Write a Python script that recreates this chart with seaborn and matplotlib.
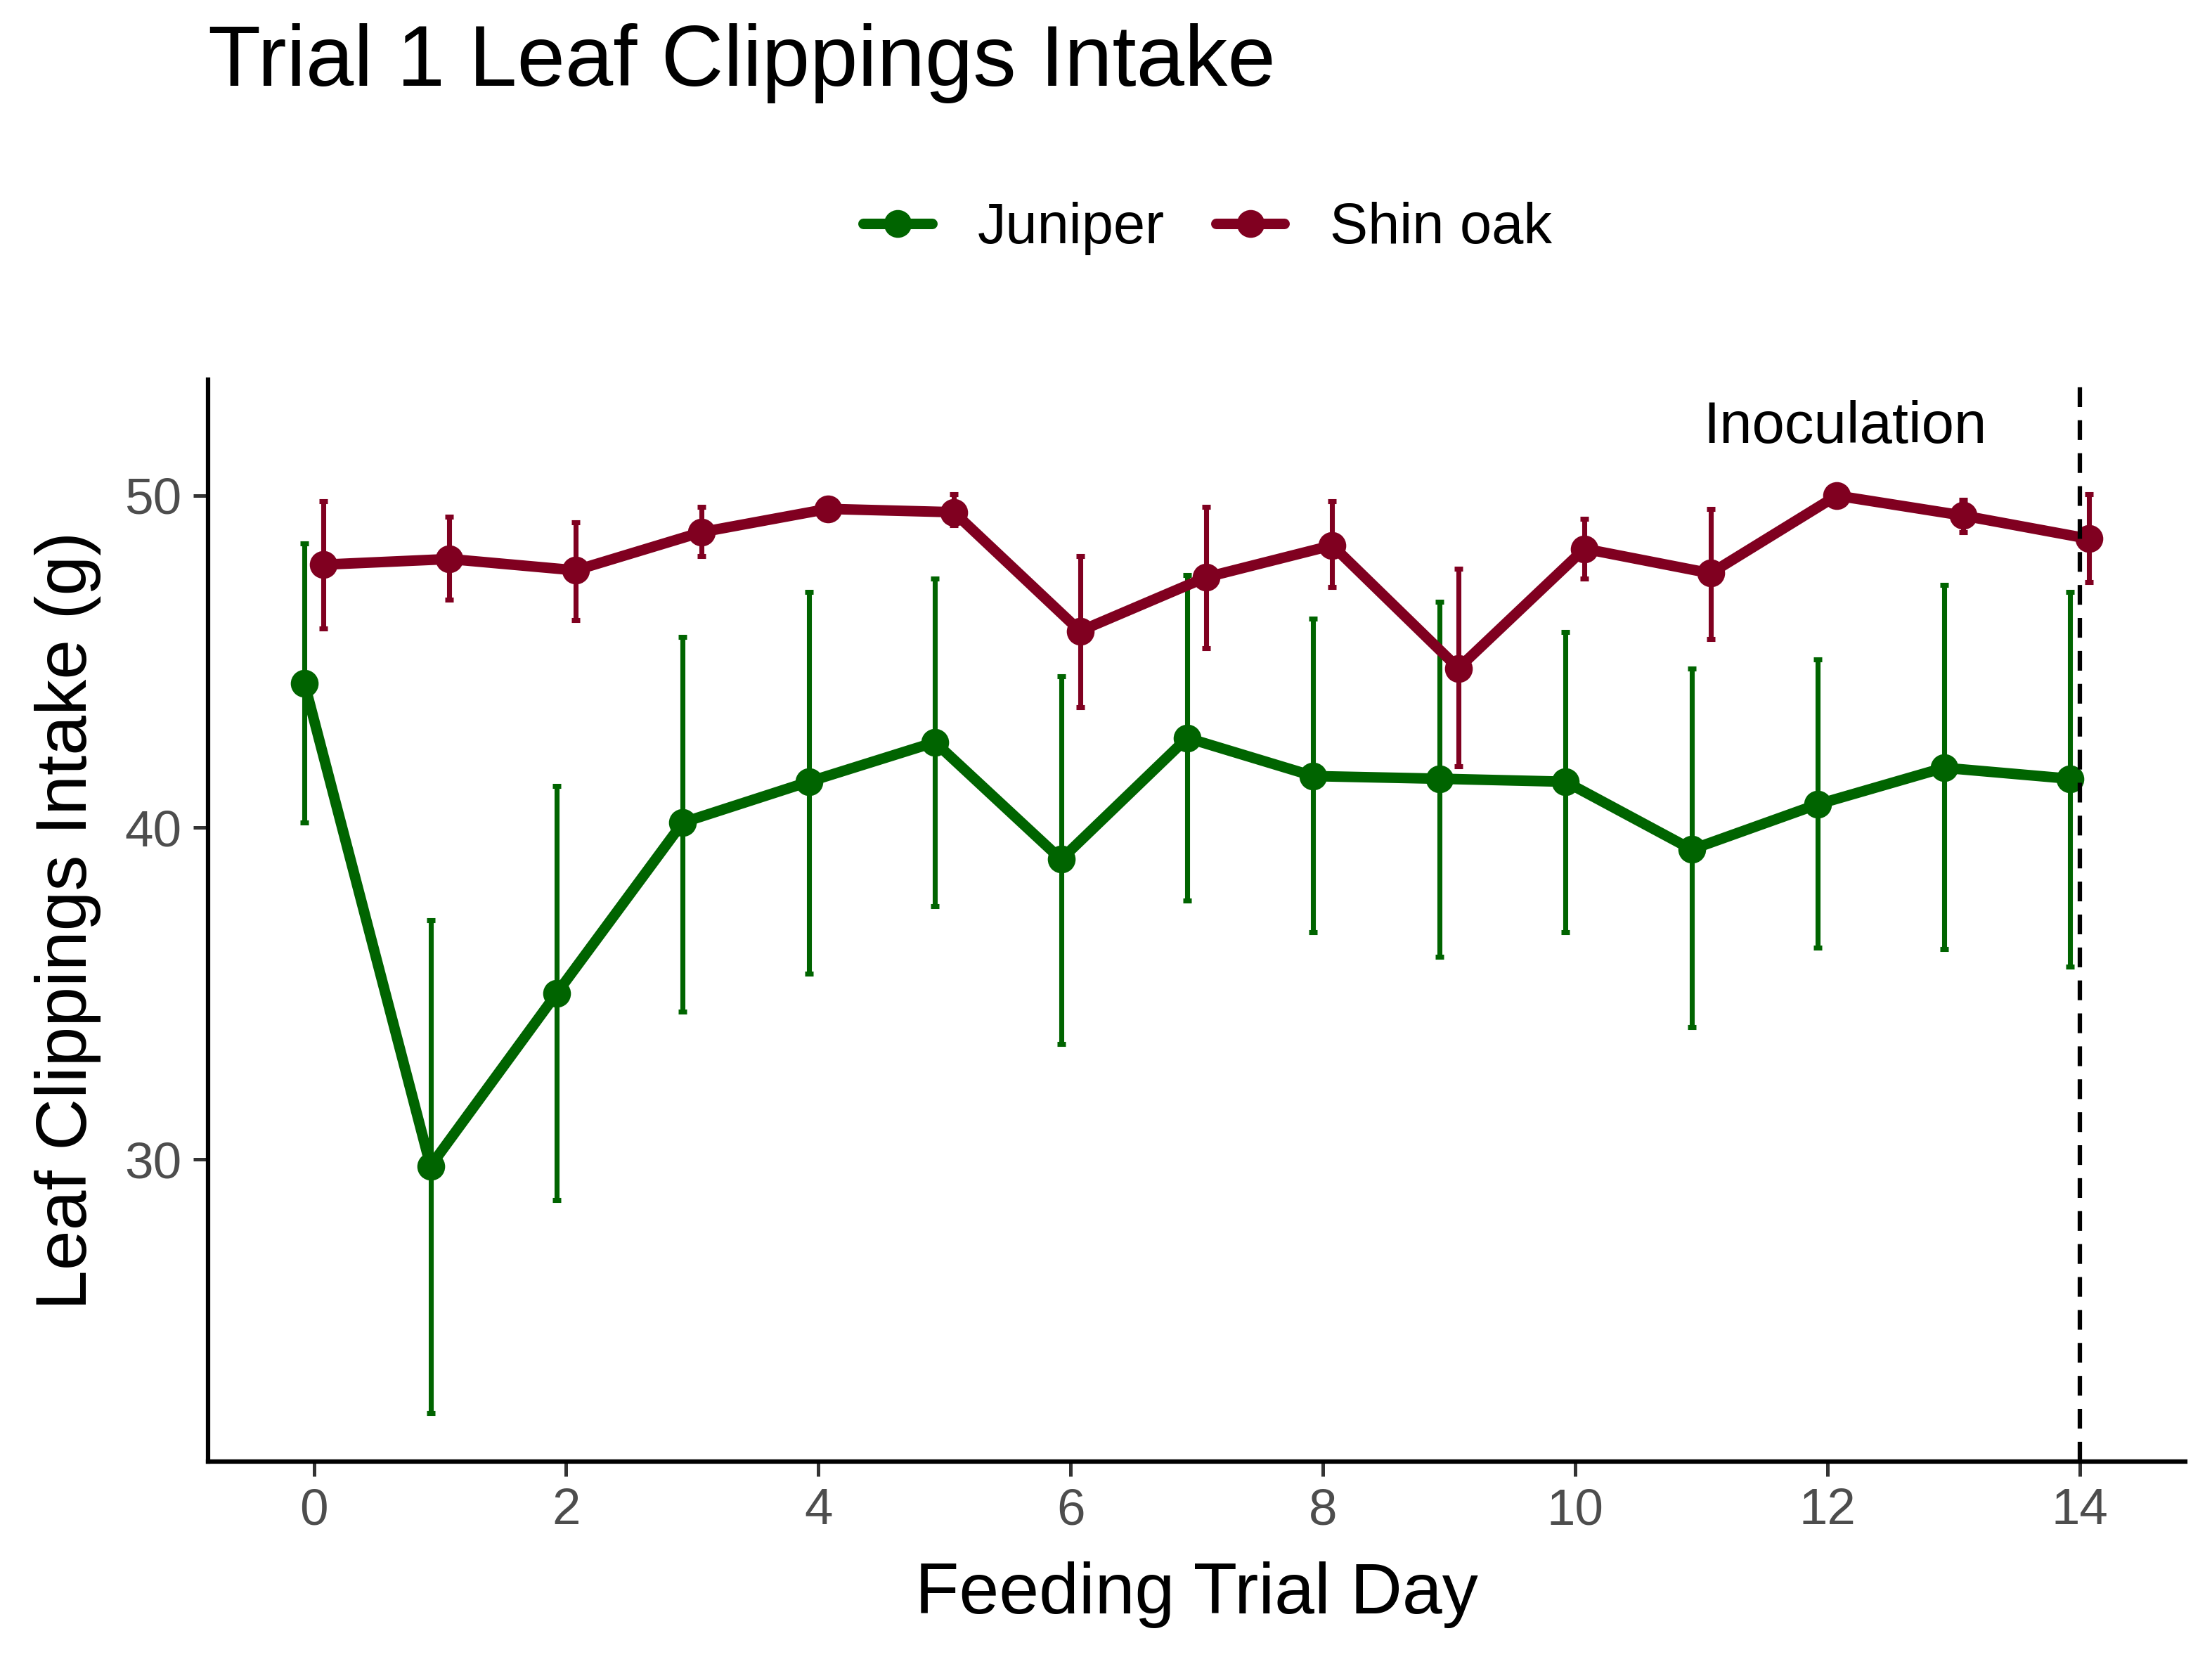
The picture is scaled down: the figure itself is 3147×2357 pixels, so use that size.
import matplotlib
matplotlib.use("Agg")
import matplotlib.pyplot as plt
from matplotlib.lines import Line2D
import pandas as pd
import numpy as np
import seaborn as sns

# feeding trial days
days = list(range(15))

# Juniper: mean intake and error bar limits (g)
juniper_mean = [44.35, 29.8, 35.0, 40.15, 41.38, 42.57, 39.04, 42.7, 41.55, 41.47, 41.38, 39.34, 40.7, 41.8, 41.47]
juniper_low = [40.15, 22.36, 28.77, 34.46, 35.6, 37.64, 33.48, 37.8, 36.84, 36.1, 36.84, 33.99, 36.37, 36.33, 35.8]
juniper_high = [48.56, 37.2, 41.25, 45.75, 47.1, 47.5, 44.56, 47.6, 46.3, 46.8, 45.9, 44.8, 45.07, 47.3, 47.1]

# Shin oak: mean intake and error bar limits (g)
oak_mean = [47.92, 48.09, 47.75, 48.9, 49.6, 49.5, 45.92, 47.54, 48.5, 44.8, 48.4, 47.66, 50.0, 49.4, 48.7]
oak_low = [46.0, 46.86, 46.26, 48.17, 49.55, 49.1, 43.63, 45.4, 47.24, 41.85, 47.5, 45.67, 49.95, 48.9, 47.4]
oak_high = [49.83, 49.36, 49.2, 49.66, 49.65, 50.04, 48.17, 49.66, 49.83, 47.8, 49.3, 49.6, 50.05, 49.87, 50.04]

species = ["Juniper", "Shin oak"]
colors = {"Juniper": "#006400", "Shin oak": "#800020"}
inoculation_day = 14

dodge = 0.075
df = pd.concat([
    pd.DataFrame({"day": days, "x": np.array(days) - dodge, "mean": juniper_mean,
                  "low": juniper_low, "high": juniper_high, "species": "Juniper"}),
    pd.DataFrame({"day": days, "x": np.array(days) + dodge, "mean": oak_mean,
                  "low": oak_low, "high": oak_high, "species": "Shin oak"}),
])

sns.set_theme(style="white")
plt.rcParams["font.family"] = ["Liberation Sans", "DejaVu Sans"]
plt.rcParams["text.color"] = "black"

fig = plt.figure(figsize=(3147 / 300, 2357 / 300), dpi=300)
ax = fig.add_axes([0.094, 0.118, 0.894, 0.653])

# error bars first so lines/points sit on top
for sp in species:
    d = df[df["species"] == sp]
    ax.errorbar(d["x"], d["mean"], yerr=[d["mean"] - d["low"], d["high"] - d["mean"]],
                fmt="none", ecolor=colors[sp], elinewidth=1.7, capsize=1.5, capthick=1.7, zorder=2)

sns.lineplot(data=df, x="x", y="mean", hue="species", palette=colors, marker="o",
             markersize=9.5, markeredgewidth=0, linewidth=3.6, legend=False, ax=ax, zorder=3)

ax.axvline(inoculation_day, color="black", linestyle=(0, (4.5, 3.0)), linewidth=1.5, zorder=4)
ax.text(12.14, 52.05, "Inoculation", ha="center", va="center", fontsize=20, color="black")

ax.set_xlim(-0.84, 14.84)
ax.set_ylim(20.9, 53.5)
ax.set_xticks([0, 2, 4, 6, 8, 10, 12, 14])
ax.set_yticks([30, 40, 50])
ax.tick_params(axis="both", which="major", length=5, width=1.2, color="#333333",
               labelsize=17.5, labelcolor="#4D4D4D", direction="out", bottom=True, left=True, pad=4)
for side in ["top", "right"]:
    ax.spines[side].set_visible(False)
for side in ["left", "bottom"]:
    ax.spines[side].set_color("black")
    ax.spines[side].set_linewidth(1.5)

ax.set_xlabel("Feeding Trial Day", fontsize=24.5, color="black", labelpad=9)
ax.set_ylabel("Leaf Clippings Intake (g)", fontsize=24.5, color="black", labelpad=8)

fig.text(0.094, 0.962, "Trial 1 Leaf Clippings Intake", fontsize=29.5, ha="left", va="center", color="black")

handles = [Line2D([0], [0], color=colors[sp], marker="o", markersize=9.5, linewidth=3.6,
                  markeredgewidth=0) for sp in species]
fig.legend(handles, species, loc="center", bbox_to_anchor=(0.546, 0.862), ncol=2, frameon=False,
           fontsize=19.5, handlelength=1.2, columnspacing=0.9, handletextpad=0.8, labelcolor="black")

fig.savefig("out.png", dpi=300)
